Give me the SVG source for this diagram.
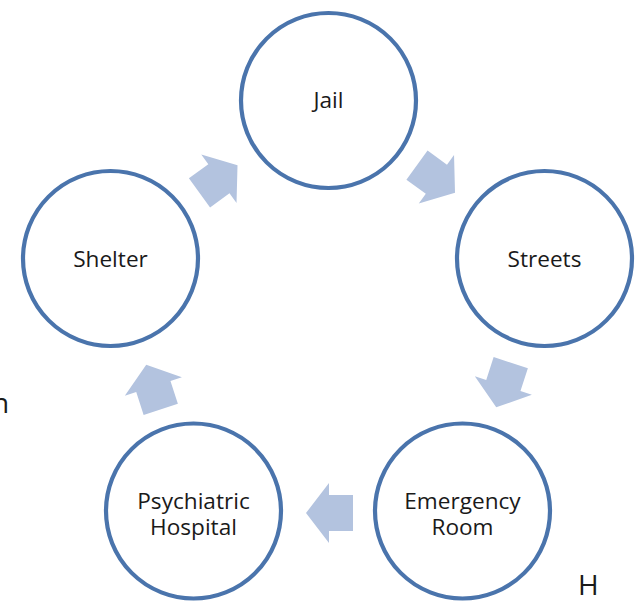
<svg xmlns="http://www.w3.org/2000/svg" width="635" height="604" viewBox="0 0 635 604">
<defs>
<style>
.ring{fill:#FFFFFF;stroke:#4A74AC;stroke-width:4.2}
.lbl{font-family:"Open Sans","Liberation Sans",sans-serif;font-size:22.6px;fill:#1A1A1A;text-anchor:middle}
.stray{font-family:"Open Sans","Liberation Sans",sans-serif;font-size:28px;fill:#1A1A1A}
.arr{fill:#B3C3DF}
</style>
<polygon id="blk" points="-23.5,-18 0.5,-18 0.5,-30 23.5,0 0.5,30 0.5,18 -23.5,18"/>
</defs>
<rect width="635" height="604" fill="#FFFFFF"/>
<g id="connectors" class="arr">
<use href="#blk" transform="translate(218.5,179) rotate(-36)"/>
<use href="#blk" transform="translate(436,179) rotate(36)"/>
<use href="#blk" transform="translate(503.5,385) rotate(108)"/>
<use href="#blk" transform="translate(329.5,513) rotate(180)"/>
<use href="#blk" transform="translate(153.5,387) rotate(252)"/>
</g>
<g id="jail"><circle class="ring" cx="328.5" cy="100.5" r="87.5"/><text class="lbl" x="328.5" y="107.5">Jail</text></g>
<g id="streets"><circle class="ring" cx="544.5" cy="258.5" r="87.5"/><text class="lbl" x="544.5" y="266.5">Streets</text></g>
<g id="emergency-room"><circle class="ring" cx="462.5" cy="511" r="87.5"/><text class="lbl" x="462.5" y="509">Emergency<tspan x="462.5" dy="26">Room</tspan></text></g>
<g id="psychiatric-hospital"><circle class="ring" cx="193.5" cy="511" r="87.5"/><text class="lbl" x="193.5" y="509">Psychiatric<tspan x="193.5" dy="26">Hospital</tspan></text></g>
<g id="shelter"><circle class="ring" cx="110.5" cy="258.5" r="87.5"/><text class="lbl" x="110.5" y="267">Shelter</text></g>
<text class="stray" x="-8" y="413">n</text>
<text class="stray" x="578" y="595">H</text>
</svg>
